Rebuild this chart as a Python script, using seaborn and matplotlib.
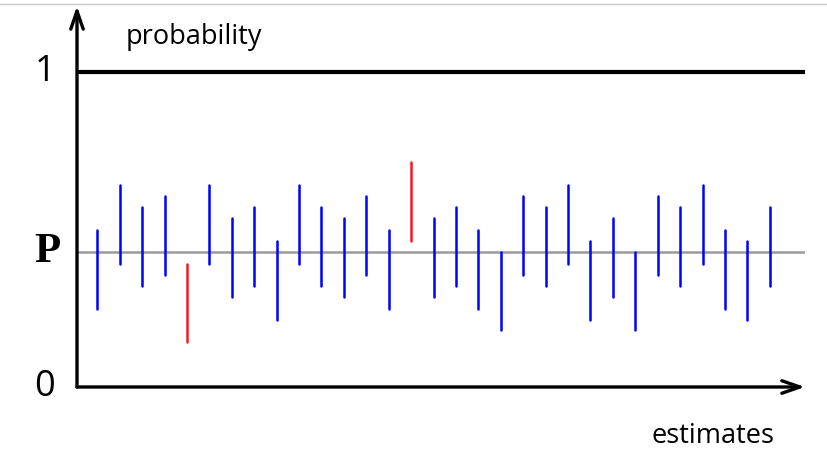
import numpy as np
import pandas as pd
import matplotlib
matplotlib.use('Agg')
import matplotlib.pyplot as plt
import seaborn as sns

# ============================================================
# DATA — 31 interval estimates around the true probability P
# ============================================================
true_p     = 0.428
half_width = 0.125
trials     = list(range(1, 32))
estimates  = [0.374, 0.517, 0.447, 0.481, 0.267, 0.517, 0.410, 0.447,
              0.339, 0.517, 0.447, 0.410, 0.481, 0.374, 0.588, 0.410,
              0.447, 0.374, 0.305, 0.481, 0.447, 0.517, 0.339, 0.410,
              0.305, 0.481, 0.447, 0.517, 0.374, 0.339, 0.447]
y_ticks       = [0, 1]
y_tick_labels = ['0', '1']

lower  = np.array(estimates) - half_width
upper  = np.array(estimates) + half_width
covers = (lower <= true_p) & (upper >= true_p)

# long form: two rows per interval (lower end, upper end)
df = pd.DataFrame({
    'trial':  trials * 2,
    'p':      list(lower) + list(upper),
    'covers': list(covers) * 2,
})

# ============================================================
# FIGURE
# ============================================================
sns.set_style('white')
plt.rcParams['font.family'] = ['Open Sans', 'DejaVu Sans']
plt.rcParams['text.color'] = 'black'

W, H = 827, 463
fig = plt.figure(figsize=(W / 100, H / 100), dpi=100)
ax = fig.add_axes([77 / W, (H - 387) / H, (805 - 77) / W, (387 - 6) / H])
ax.set_xlim(0.095, 32.57)
ax.set_ylim(0, 1.2095)
ax.axis('off')

# reference line at P and the line at probability 1
ax.axhline(true_p, color='#9a9a9a', lw=1.8, zorder=1)
ax.axhline(1, color='black', lw=3.0, zorder=1)

sns.lineplot(data=df, x='trial', y='p', units='trial', hue='covers',
             estimator=None, palette={True: '#0000ff', False: '#ee1c24'},
             lw=1.8, legend=False, ax=ax, zorder=2)

# axes with arrow heads
ax.annotate('', xy=(0, 1.0), xytext=(0, 0), xycoords='axes fraction',
            arrowprops=dict(arrowstyle='->,head_length=1.3,head_width=0.45',
                            lw=2.4, color='black', shrinkA=0, shrinkB=0))
ax.annotate('', xy=(1.0, 0), xytext=(0, 0), xycoords='axes fraction',
            arrowprops=dict(arrowstyle='->,head_length=1.3,head_width=0.45',
                            lw=2.4, color='black', shrinkA=0, shrinkB=0))

# labels
for v, lab in zip(y_ticks, y_tick_labels):
    ax.text(-32 / 728, v, lab, transform=ax.get_yaxis_transform(),
            ha='center', va='center', fontsize=26, color='black')
ax.text(-30 / 728, true_p, 'P', transform=ax.get_yaxis_transform(),
        ha='center', va='center', fontsize=31, fontweight='bold',
        family='Liberation Serif', color='black')
fig.text(194 / W, 1 - 37 / H, 'probability', ha='center', va='center',
         fontsize=19.5, color='black')
fig.text(713 / W, 1 - 436 / H, 'estimates', ha='center', va='center',
         fontsize=19.5, color='black')

# thin grey border at the top of the picture
fig.add_artist(plt.Line2D([0, 1], [1 - 4 / H, 1 - 4 / H], color='#c8c8c8', lw=1,
                          transform=fig.transFigure))

plt.savefig('out.png', dpi=100)
plt.close()
